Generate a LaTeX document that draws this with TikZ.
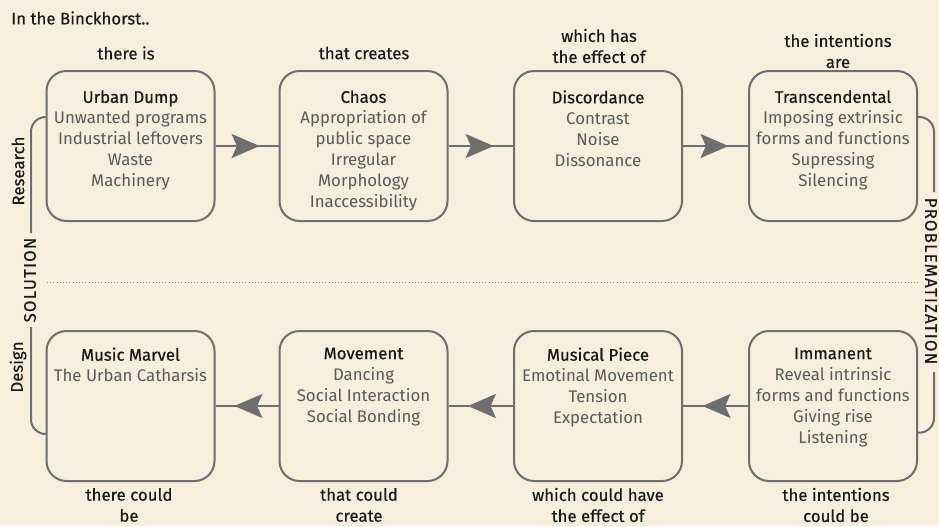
\documentclass[tikz,border=0pt]{standalone}
\usepackage{fontspec}
\setmainfont{Fira Sans}
\newfontfamily\itemfont{Fira Sans}
\newfontfamily\titlefont{Fira Sans}[FakeBold=0.6]
\newfontfamily\labelfont{Fira Sans}[FakeBold=0.3]
\newfontfamily\capsfont{Fira Sans}[LetterSpace=7, FakeBold=0.3]
\usetikzlibrary{positioning,arrows.meta,decorations.markings}

\definecolor{paper}{RGB}{247,238,222}
\definecolor{linegray}{RGB}{110,110,110}
\definecolor{itemgray}{RGB}{90,90,90}
\definecolor{inkgray}{RGB}{25,25,25}

\tikzset{
  box/.style={draw=linegray, line width=1.5pt, rounded corners=15pt,
    minimum width=126pt, minimum height=112.5pt, inner sep=0pt},
  inbox/.style={align=center, inner sep=0pt, text=itemgray,
    font=\fontsize{12.6}{15.75}\selectfont\itemfont},
  caption/.style={align=center, inner sep=0pt, text=inkgray,
    font=\fontsize{12.6}{15.75}\selectfont\labelfont},
  sidecaps/.style={caption, font=\fontsize{12.6}{15.75}\selectfont\capsfont},
  side/.style={draw=linegray, line width=1.5pt, rounded corners=11pt},
  flow/.style={color=linegray, line width=1.5pt, postaction={decorate},
    decoration={markings, mark=at position 0.7 with
      {\arrow{Stealth[length=21pt, width=18pt, inset=4pt]}}}}
}
\newcommand{\boxtitle}[1]{{\titlefont\color{inkgray}#1}}

\begin{document}
\begin{tikzpicture}[x=0.75pt, y=-0.75pt]
  \fill[paper] (0,0) rectangle (939,526);
  \useasboundingbox (0,0) rectangle (939,526);

  \node[caption, anchor=west] (intro) at (11,18) {In the Binckhorst..};

  % research row
  \node[box] (dump)  at (130.5,146) {};
  \node[box] (chaos) at (363.5,146) {};
  \node[box] (disc)  at (598,146) {};
  \node[box] (trans) at (833,146) {};

  \node[inbox, below=15pt of dump.north] (dumptxt) {\boxtitle{Urban Dump}\\Unwanted programs\\Industrial leftovers\\Waste\\Machinery};
  \node[inbox, below=15pt of chaos.north] (chaostxt) {\boxtitle{Chaos}\\Appropriation of\\public space\\Irregular\\Morphology\\Inaccessibility};
  \node[inbox, below=15pt of disc.north] (disctxt) {\boxtitle{Discordance}\\Contrast\\Noise\\Dissonance};
  \node[inbox, below=15pt of trans.north] (transtxt) {\boxtitle{Transcendental}\\Imposing extrinsic\\forms and functions\\Supressing\\Silencing};

  \node[caption] (cap1) at (126,53) {there is};
  \node[caption] (cap2) at (364,53) {that creates};
  \node[caption] (cap3) at (599,46) {which has\\the effect of};
  \node[caption] (cap4) at (838,51) {the intentions\\are};

  \draw[flow] (dump) -- (chaos);
  \draw[flow] (chaos) -- (disc);
  \draw[flow] (disc) -- (trans);

  % design row
  \node[box] (marvel) at (130.5,406) {};
  \node[box] (move)   at (363.5,406) {};
  \node[box] (piece)  at (598,406) {};
  \node[box] (imman)  at (833,406) {};

  \node[inbox, below=13pt of marvel.north] (marveltxt) {\boxtitle{Music Marvel}\\The Urban Catharsis};
  \node[inbox, below=13pt of move.north] (movetxt) {\boxtitle{Movement}\\Dancing\\Social Interaction\\Social Bonding};
  \node[inbox, below=13pt of piece.north] (piecetxt) {\boxtitle{Musical Piece}\\Emotinal Movement\\Tension\\Expectation};
  \node[inbox, below=13pt of imman.north] (immantxt) {\boxtitle{Immanent}\\Reveal intrinsic\\forms and functions\\Giving rise\\Listening};

  \node[caption] (cap5) at (129,505) {there could\\be};
  \node[caption] (cap6) at (359,505) {that could\\create};
  \node[caption] (cap7) at (598,505) {which could have\\the effect of};
  \node[caption] (cap8) at (836,505) {the intentions\\could be};

  \draw[flow] (imman) -- (piece);
  \draw[flow] (piece) -- (move);
  \draw[flow] (move) -- (marvel);

  % divider
  \draw[linegray!80, line width=0.6pt, dash pattern=on 0.8pt off 1.6pt] (47,282) -- (918,282);

  % solution side
  \coordinate (solA) at (31,233);
  \coordinate (solB) at (31,327);
  \draw[side] ([yshift=21.75pt]dump.west) -| (solA);
  \draw[side] (solB) |- ([yshift=-21pt]marvel.west);
  \node[sidecaps, rotate=90] (sol) at (30,280) {SOLUTION};
  \node[caption, rotate=90] (research) at (18,171) {Research};
  \node[caption, rotate=90] (design) at (18,367) {Design};

  % problematization side
  \coordinate (probA) at (934,192);
  \coordinate (probB) at (934,372);
  \draw[side] ([yshift=21.75pt]trans.east) -| (probA);
  \draw[side] (probB) |- ([yshift=-20pt]imman.east);
  \node[sidecaps, rotate=-90] (prob) at (931,281) {PROBLEMATIZATION};
\end{tikzpicture}
\end{document}
